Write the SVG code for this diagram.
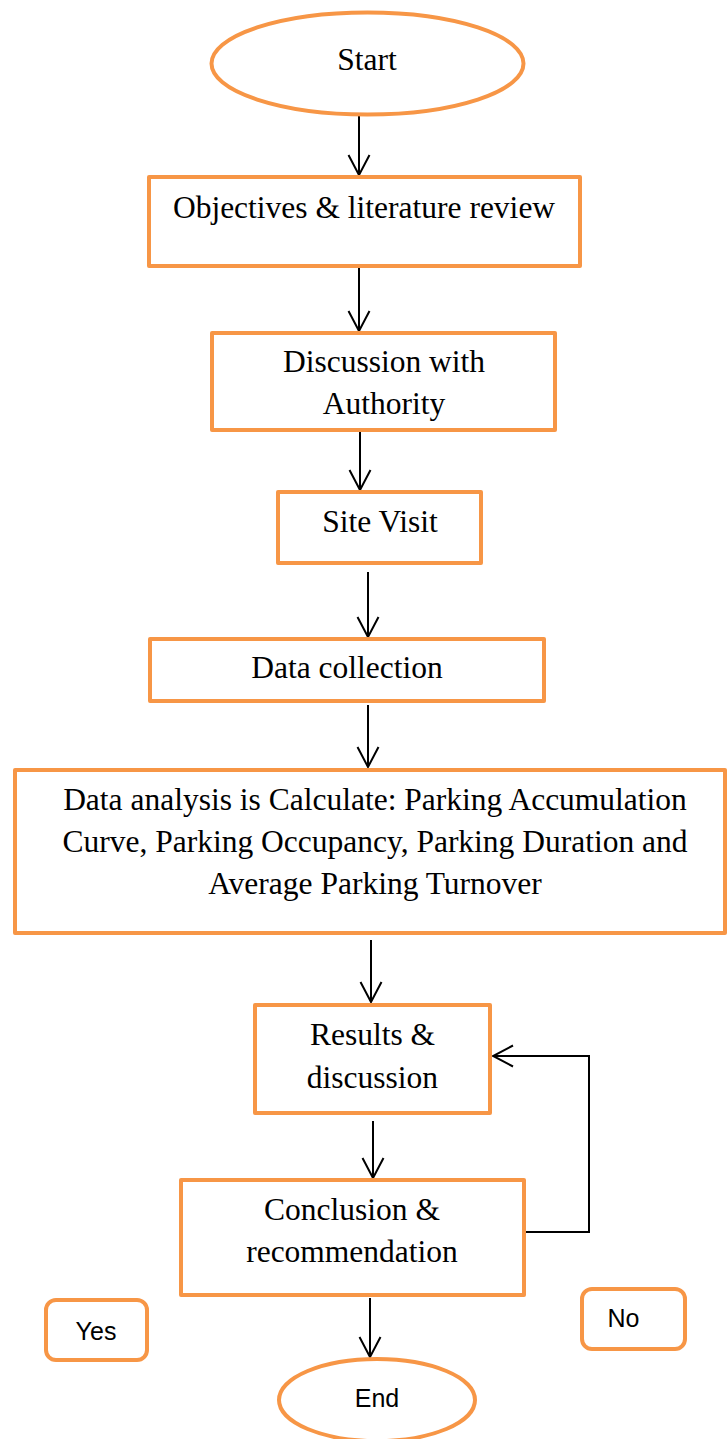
<svg xmlns="http://www.w3.org/2000/svg" width="728" height="1439" viewBox="0 0 728 1439">
<style>
.box{fill:#fff;stroke:#F79646;stroke-width:4;stroke-linejoin:round}
.t{font-family:"Liberation Serif","Times New Roman",serif;font-size:31.5px;fill:#000;text-anchor:middle}
.s{font-family:"Liberation Sans",Arial,sans-serif;font-size:25px;fill:#000;text-anchor:middle}
.c{fill:none;stroke:#000;stroke-width:2}
</style>
<defs>
<marker id="ah" markerUnits="userSpaceOnUse" viewBox="0 0 24 24" refX="22" refY="12" markerWidth="24" markerHeight="24" orient="auto">
<path d="M2,1.5 L22,12 L2,22.5" fill="none" stroke="#000" stroke-width="2"/>
</marker>
</defs>
<rect width="728" height="1439" fill="#fff"/>
<g id="connectors">
<line class="c" x1="359" y1="115" x2="359" y2="175" marker-end="url(#ah)"/>
<line class="c" x1="359" y1="268" x2="359" y2="331" marker-end="url(#ah)"/>
<line class="c" x1="360" y1="432" x2="360" y2="490" marker-end="url(#ah)"/>
<line class="c" x1="368" y1="572" x2="368" y2="637" marker-end="url(#ah)"/>
<line class="c" x1="368" y1="705" x2="368" y2="767" marker-end="url(#ah)"/>
<line class="c" x1="371" y1="940" x2="371" y2="1002" marker-end="url(#ah)"/>
<line class="c" x1="373" y1="1121" x2="373" y2="1178" marker-end="url(#ah)"/>
<line class="c" x1="370" y1="1298" x2="370" y2="1357" marker-end="url(#ah)"/>
<polyline class="c" points="526,1232 589,1232 589,1056 493,1056" marker-end="url(#ah)"/>
</g>
<g id="start">
<ellipse class="box" cx="367.5" cy="63.5" rx="156" ry="51"/>
<text class="t" x="367" y="70">Start</text>
</g>
<g id="objectives">
<rect class="box" x="149" y="177" width="431" height="89"/>
<text class="t" x="364" y="218">Objectives &amp; literature review</text>
</g>
<g id="discussion">
<rect class="box" x="212" y="333" width="343" height="97"/>
<text class="t" x="384" y="372">Discussion with</text>
<text class="t" x="384" y="414">Authority</text>
</g>
<g id="site">
<rect class="box" x="278" y="492" width="203" height="71"/>
<text class="t" x="380" y="532">Site Visit</text>
</g>
<g id="collection">
<rect class="box" x="150" y="639" width="394" height="62"/>
<text class="t" x="347" y="678">Data collection</text>
</g>
<g id="analysis">
<rect class="box" x="15" y="770" width="710" height="163"/>
<text class="t" x="375" y="810">Data analysis is Calculate: Parking Accumulation</text>
<text class="t" x="375" y="852">Curve, Parking Occupancy, Parking Duration and</text>
<text class="t" x="375" y="894">Average Parking Turnover</text>
</g>
<g id="results">
<rect class="box" x="255" y="1005" width="235" height="108"/>
<text class="t" x="372.5" y="1045">Results &amp;</text>
<text class="t" x="372.5" y="1088">discussion</text>
</g>
<g id="conclusion">
<rect class="box" x="181" y="1180" width="343" height="115"/>
<text class="t" x="352" y="1220">Conclusion &amp;</text>
<text class="t" x="352" y="1262">recommendation</text>
</g>
<g id="yes">
<rect class="box" x="46" y="1300" width="101" height="60" rx="10"/>
<text class="s" x="96" y="1340">Yes</text>
</g>
<g id="no">
<rect class="box" x="582" y="1289" width="103" height="60" rx="10"/>
<text class="s" x="623.5" y="1327">No</text>
</g>
<g id="end">
<ellipse class="box" cx="377" cy="1400" rx="98" ry="41"/>
<text class="s" x="377" y="1407">End</text>
</g>
</svg>
